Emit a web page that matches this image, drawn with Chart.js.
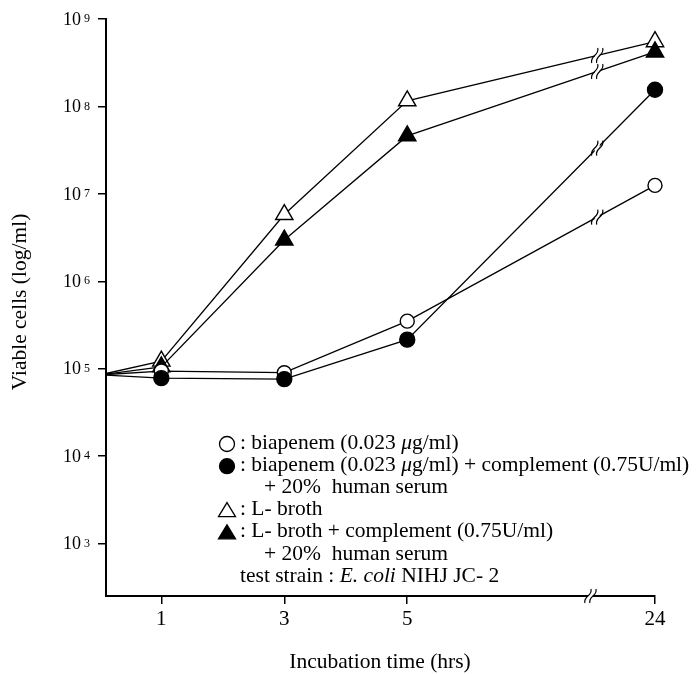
<!DOCTYPE html>
<html><head><meta charset="utf-8">
<script src="https://cdn.jsdelivr.net/npm/chart.js@4"></script>
<style>html,body{margin:0;padding:0;background:#fff}#wrap{width:700px;height:674px;position:relative}</style>
</head><body><div id="wrap"><canvas id="c" width="700" height="674"></canvas></div>
<script>
// ---- data ----
const timesHrs = [0, 1, 3, 5, 24];
const xTickHours = [1, 3, 5, 24];
const yTickExponents = [3, 4, 5, 6, 7, 8, 9];
const biapenem      = [8.5e4, 9.4e4, 9.0e4, 3.5e5, 1.25e7];
const biapenemComp  = [8.5e4, 7.8e4, 7.6e4, 2.15e5, 1.55e8];
const lBroth        = [8.5e4, 1.22e5, 5.8e6, 1.16e8, 5.5e8];
const lBrothComp    = [8.5e4, 1.05e5, 2.96e6, 4.6e7, 4.2e8];
const xTitle = 'Incubation time (hrs)';
const yTitle = 'Viable cells (log/ml)';
const legendLines = [
  {sym:'circleOpen', parts:[[': biapenem (0.023 ',''],['\u03BC','i'],['g/ml)','']]},
  {sym:'circleFilled', parts:[[': biapenem (0.023 ',''],['\u03BC','i'],['g/ml) + complement (0.75U/ml)','']]},
  {sym:null, indent:true, parts:[['+ 20%  human serum','']]},
  {sym:'triOpen', parts:[[': L- broth','']]},
  {sym:'triFilled', parts:[[': L- broth + complement (0.75U/ml)','']]},
  {sym:null, indent:true, parts:[['+ 20%  human serum','']]},
  {sym:null, test:true, parts:[['test strain : ',''],['E. coli','i'],[' NIHJ JC- 2','']]}
];

// broken time axis: hours up to 5 are linear, 24 h is placed after the break
const AXIS_MIN = 0.1, AXIS_END = 9.03;
function axisPos(h){ return h <= 5 ? h : AXIS_END; }
const AXIS_BREAK = 7.98, LINE_BREAK = 8.09;

const SERIF = '"Liberation Serif", "DejaVu Serif", serif';

function mk(label, values, style, filled, r){
  return {
    label, data: timesHrs.map((t,i)=>({x:axisPos(t), y:values[i]})),
    borderColor:'#000', borderWidth:1.3, tension:0,
    clip:{left:0, top:false, right:false, bottom:false},
    pointStyle: style, pointRadius: timesHrs.map((t,i)=> i===0 ? 0 : r),
    pointHoverRadius: timesHrs.map((t,i)=> i===0 ? 0 : r),
    pointBackgroundColor: filled ? '#000' : '#fff', pointBorderColor:'#000', pointBorderWidth:1.4
  };
}

function drawBreak(ctx, x, y, h){
  ctx.save();
  ctx.fillStyle = '#fff';
  ctx.fillRect(x-2.5, y-h/2+2, 5, h-4);
  ctx.strokeStyle = '#000'; ctx.lineWidth = 1.2;
  [-2.5, 2.5].forEach(dx=>{
    ctx.beginPath();
    ctx.moveTo(x+dx-3, y+h/2);
    ctx.bezierCurveTo(x+dx-5, y, x+dx+5, y, x+dx+3, y-h/2);
    ctx.stroke();
  });
  ctx.restore();
}

const decor = {
  id:'decor',
  afterDatasetsDraw(chart){
    const ctx = chart.ctx, xs = chart.scales.x, ys = chart.scales.y;
    chart.data.datasets.forEach((ds, di)=>{
      const meta = chart.getDatasetMeta(di);
      const p0 = meta.data[3], p1 = meta.data[4];
      const bx = xs.getPixelForValue(LINE_BREAK);
      const f = (bx - p0.x)/(p1.x - p0.x);
      const by = p0.y + f*(p1.y - p0.y);
      drawBreak(ctx, bx, by, 15);
    });
    drawBreak(ctx, xs.getPixelForValue(AXIS_BREAK), ys.bottom, 14);
  },
  afterDraw(chart){
    const ctx = chart.ctx, xs = chart.scales.x, ys = chart.scales.y;
    ctx.save();
    ctx.fillStyle = '#000';
    yTickExponents.forEach(e=>{
      const y = ys.getPixelForValue(Math.pow(10,e));
      ctx.font = '18px ' + SERIF;
      ctx.textAlign = 'right'; ctx.textBaseline = 'middle';
      ctx.fillText('10', 81, y+1);
      ctx.font = '12px ' + SERIF;
      ctx.textAlign = 'left'; ctx.textBaseline = 'top';
      ctx.fillText(String(e), 84, y-6);
    });
    ctx.font = '21.5px ' + SERIF;
    ctx.textAlign = 'center'; ctx.textBaseline = 'middle';
    ctx.fillText(xTitle, 380, 662);
    ctx.save();
    ctx.translate(20, 302); ctx.rotate(-Math.PI/2);
    ctx.fillText(yTitle, 0, 0);
    ctx.restore();
    const lx = 227, ly0 = 443, dy = 22.2;
    legendLines.forEach((ln, i)=>{
      const y = ly0 + i*dy;
      if (ln.sym){
        ctx.save();
        ctx.lineWidth = 1.3; ctx.strokeStyle = '#000';
        ctx.beginPath();
        if (ln.sym.startsWith('circle')) ctx.arc(lx, y+1, 7.5, 0, Math.PI*2);
        else { ctx.moveTo(lx, y-7); ctx.lineTo(lx+8.5, y+7); ctx.lineTo(lx-8.5, y+7); ctx.closePath(); }
        ctx.fillStyle = ln.sym.endsWith('Filled') ? '#000' : '#fff';
        ctx.fill(); ctx.stroke();
        ctx.restore();
      }
      let x = ln.indent ? 264 : 240;
      ctx.textAlign = 'left'; ctx.textBaseline = 'middle';
      ln.parts.forEach(([t, st])=>{
        ctx.font = (st==='i' ? 'italic ' : '') + '21.5px ' + SERIF;
        ctx.fillText(t, x, y);
        x += ctx.measureText(t).width;
      });
    });
    ctx.restore();
  }
};

new Chart(document.getElementById('c'), {
  type:'line',
  data:{ datasets:[
    mk('biapenem + complement + serum', biapenemComp, 'circle', true, 7.5),
    mk('biapenem', biapenem, 'circle', false, 7),
    mk('L-broth + complement + serum', lBrothComp, 'triangle', true, 10),
    mk('L-broth', lBroth, 'triangle', false, 10)
  ]},
  options:{
    responsive:false, animation:false, devicePixelRatio:1,
    layout:{ padding:{ left:0, right:45, top:19, bottom:0 } },
    plugins:{ legend:{display:false}, tooltip:{enabled:false} },
    scales:{
      x:{
        type:'linear', min:AXIS_MIN, max:AXIS_END,
        afterBuildTicks(s){ s.ticks = xTickHours.map(h=>({value:axisPos(h)})); },
        afterFit(s){ s.height = 78; },
        ticks:{ color:'#000', font:{family:SERIF, size:21}, padding:3,
          callback(v){ const i = xTickHours.findIndex(h=>axisPos(h)===v); return i>=0 ? String(xTickHours[i]) : ''; } },
        grid:{ drawOnChartArea:false, drawTicks:true, tickLength:8, color:'#000', lineWidth:1.5 },
        border:{ display:true, color:'#000', width:2 }
      },
      y:{
        type:'logarithmic', min:Math.pow(10,2.4), max:1e9,
        afterBuildTicks(s){ s.ticks = yTickExponents.map(e=>({value:Math.pow(10,e)})); },
        afterFit(s){ s.width = 106; },
        ticks:{ display:true, color:'rgba(0,0,0,0)', callback(){ return ''; } },
        grid:{ drawOnChartArea:false, drawTicks:true, tickLength:8, color:'#000', lineWidth:1.5 },
        border:{ display:true, color:'#000', width:2 }
      }
    }
  },
  plugins:[decor]
});
</script></body></html>
